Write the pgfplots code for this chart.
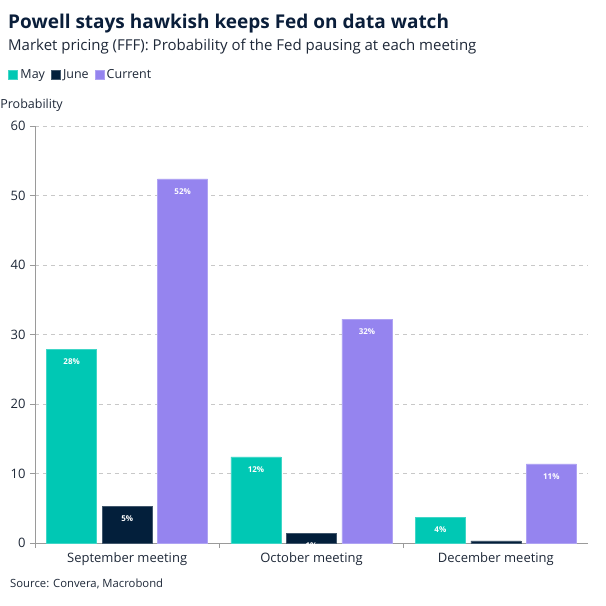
\documentclass[border=0pt]{standalone}
\usepackage{fontspec}
\setmainfont{Open Sans}
\usepackage{pgfplots}
\pgfplotsset{compat=1.18}

\definecolor{may}{HTML}{00C8B4}
\definecolor{june}{HTML}{031F3B}
\definecolor{cur}{HTML}{9584EF}
\definecolor{ink}{HTML}{0A1E3A}
\definecolor{txt}{HTML}{1E2838}
\definecolor{gridc}{HTML}{C8C8C8}
\definecolor{axc}{HTML}{9A9A9A}

\begin{document}
\begin{tikzpicture}[x=1pt,y=1pt]
\useasboundingbox (0,0) rectangle (606,606);

% titles
\node[anchor=base west, inner sep=0, text=ink, font=\bfseries\fontsize{19}{22}\selectfont] at (8,577) {Powell stays hawkish keeps Fed on data watch};
\node[anchor=base west, inner sep=0, text=txt, font=\fontsize{15}{18}\selectfont] at (8,555) {Market pricing (FFF): Probability of the Fed pausing at each meeting};
\node[anchor=base west, inner sep=0, text=txt, font=\fontsize{11.3}{13}\selectfont] at (10,18) {Source: Convera, Macrobond};

\begin{axis}[
    at={(35pt,63pt)}, anchor=south west,
    scale only axis, width=553pt, height=417pt,
    ybar=5.5pt, bar width=50pt,
    xmin=-0.5, xmax=2.5,
    ymin=0, ymax=60,
    ytick={0,10,...,60},
    xtick={0,1,2},
    xticklabels={September meeting,October meeting,December meeting},
    xtick style={draw=none},
    extra x ticks={-0.5,0.5,1.5},
    extra x tick labels={},
    extra x tick style={xtick style={draw=axc}},
    axis lines*=left,
    axis line style={draw=axc, line width=0.8pt},
    tick align=outside,
    major tick length=5pt,
    tick style={draw=axc, line width=0.8pt},
    ymajorgrids, grid style={draw=gridc, line width=0.7pt, dash pattern=on 4pt off 4pt},
    /pgf/number format/assume math mode=true,
    tick label style={font=\fontsize{13}{15}\selectfont, text=txt},
    yticklabel style={xshift=-1pt},
    xticklabel style={yshift=-1pt},
    ylabel={Probability},
    ylabel style={rotate=-90, anchor=base west, inner sep=0, font=\fontsize{12.5}{15}\selectfont, text=txt, at={(axis description cs:-0.063,1.041)}},
    point meta=explicit symbolic,
    nodes near coords,
    every node near coord/.append style={anchor=north, yshift=-6pt, text=white, font=\bfseries\fontsize{8}{9}\selectfont},
    legend columns=3,
    legend style={draw=none, fill=none, inner sep=0pt, at={(axis description cs:-0.0483,1.122)}, anchor=west,
        font=\fontsize{12.5}{15}\selectfont, text=txt,
        /tikz/every odd column/.append style={column sep=0.5pt},
        /tikz/every even column/.append style={column sep=4pt}},
    legend image code/.code={\fill[#1] (0pt,-4.5pt) rectangle (9pt,4.5pt);},
]
\addplot[fill=may, draw=may!75!white, line width=0.5pt] coordinates {(0,27.9) [28\%] (1,12.4) [12\%] (2,3.7) [4\%]};
\addplot[fill=june, draw=june!75!white, line width=0.5pt] coordinates {(0,5.3) [5\%] (1,1.4) [1\%] (2,0.3) []};
\addplot[fill=cur, draw=cur!75!white, line width=0.5pt] coordinates {(0,52.4) [52\%] (1,32.2) [32\%] (2,11.4) [11\%]};
\legend{May,June,Current}
\end{axis}
\end{tikzpicture}
\end{document}
